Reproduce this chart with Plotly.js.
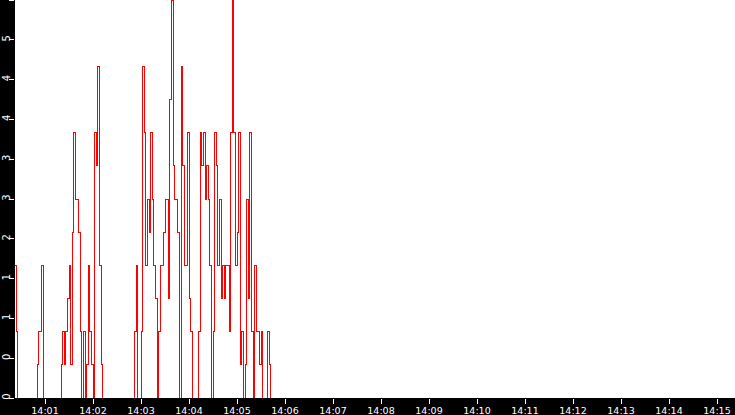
<!DOCTYPE html>
<html>
<head>
<meta charset="utf-8">
<script src="https://cdn.plot.ly/plotly-3.0.1.min.js"></script>
<style>
  html, body { margin: 0; padding: 0; background: #000; }
  #chart { width: 735px; height: 415px; }
  #chart .scatterlayer path { shape-rendering: crispEdges; }
</style>
</head>
<body>
<div id="chart"></div>
<script>
// samples every 2 seconds, starting at 14:00:22
var sampleStart = "2024-01-01 14:00:22";
var sampleStepMs = 2000;

var sampleValues = [
    2.0, 1.0, 0, 0, 0, 0, 0, 0, 0, 0,
    0, 0, 0, 0, 0.5, 1.0, 1.0, 2.0, 0, 0,
    0, 0, 0, 0, 0, 0, 0, 0, 0, 0.5,
    1.0, 0.5, 1.0, 1.5, 2.0, 0.5, 2.5, 4.0, 3.0, 3.0,
    2.5, 1.0, 0, 1.0, 0, 0.5, 2.0, 1.0, 0.5, 0,
    4.0, 3.5, 5.0, 2.0, 0.5, 0, 0, 0, 0, 0,
    0, 0, 0, 0, 0, 0, 0, 0, 0, 0,
    0, 0, 0, 0, 0, 1.0, 2.0, 0, 0, 1.0,
    5.0, 4.0, 2.0, 3.0, 2.5, 4.0, 3.0, 2.0, 1.5, 0,
    1.0, 2.0, 2.0, 2.5, 3.0, 3.0, 1.5, 4.5, 6.0, 3.5,
    3.0, 3.0, 2.5, 0, 5.0, 3.5, 2.0, 2.0, 4.0, 1.5,
    1.0, 0, 0, 0, 0, 1.0, 4.0, 3.5, 4.0, 3.0,
    3.5, 3.0, 2.0, 0, 1.0, 4.0, 3.5, 2.0, 3.0, 1.5,
    2.0, 1.5, 2.0, 2.0, 1.0, 4.0, 6.0, 4.0, 2.0, 2.5,
    4.0, 0.5, 1.0, 0, 0.5, 3.0, 1.5, 4.0, 1.0, 0,
    2.0, 1.0, 1.0, 0.5, 1.0, 0, 0, 0, 1.0, 0.5,
    0
];

var xRange = ["2024-01-01 14:00:22.5", "2024-01-01 14:15:22.5"];
var yRange = [0, 6];
var yTickVals = [0, 0.6, 1.2, 1.8, 2.4, 3.0, 3.6, 4.2, 4.8, 5.4, 6.0];
var yTickText = ["0", "0", "1", "1", "2", "3", "3", "4", "4", "5", "6"];

function buildTimes() {
    var t0 = new Date(sampleStart.replace(" ", "T")).getTime();
    var times = [];
    for (var i = 0; i < sampleValues.length; i++) {
        times.push(new Date(t0 + i * sampleStepMs));
    }
    return times;
}

var trace = {
    x: buildTimes(),
    y: sampleValues,
    type: "scatter",
    mode: "lines",
    line: { color: "#ff0000", width: 1, shape: "hv" },
    hoverinfo: "x+y",
    showlegend: false
};

var xTickFont = { family: "DejaVu Sans", size: 9.5, color: "#ffffff" };
var yTickFont = { family: "DejaVu Sans", size: 10, color: "#ffffff" };

var layout = {
    width: 735,
    height: 415,
    margin: { l: 15, r: 0, t: 0, b: 17, pad: 0 },
    paper_bgcolor: "#000000",
    plot_bgcolor: "#ffffff",
    showlegend: false,
    xaxis: {
        type: "date",
        range: xRange,
        dtick: 60000,
        tickformat: "%H:%M",
        ticks: "outside",
        ticklen: 5,
        tickwidth: 1,
        tickcolor: "#ffffff",
        tickfont: xTickFont,
        ticklabelstandoff: -1,
        showgrid: false,
        zeroline: false,
        showline: false,
        fixedrange: true
    },
    yaxis: {
        range: yRange,
        tickmode: "array",
        tickvals: yTickVals,
        ticktext: yTickText,
        tickangle: -90,
        ticks: "outside",
        ticklen: 5,
        tickwidth: 1,
        tickcolor: "#ffffff",
        tickfont: yTickFont,
        ticklabelstandoff: -5,
        showgrid: false,
        zeroline: false,
        showline: false,
        fixedrange: true
    }
};

var config = { responsive: false, displaylogo: false, displayModeBar: false, staticPlot: true };

Plotly.newPlot(document.getElementById("chart"), [trace], layout, config);
</script>
</body>
</html>
